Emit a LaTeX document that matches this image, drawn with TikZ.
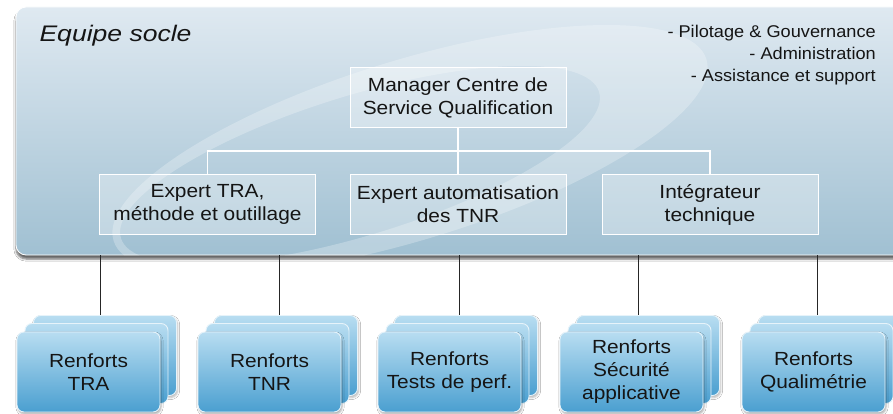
\documentclass[tikz,border=0pt]{standalone}
\usepackage{fontspec}
\setmainfont{Liberation Sans}
\newfontfamily\boxfont[FakeStretch=1.1]{Liberation Sans}
\newfontfamily\notefont[FakeStretch=1.07]{Liberation Sans}
\newfontfamily\titlefont[FakeStretch=1.18]{Liberation Sans}
\usetikzlibrary{shadows.blur}

\definecolor{paneltop}{HTML}{DFE9F1}
\definecolor{panelbot}{HTML}{A0C0D2}
\definecolor{reintop}{HTML}{B8DDF1}
\definecolor{reinbot}{HTML}{4A9FD0}
\definecolor{reinedge}{HTML}{E6F3FA}
\definecolor{inktext}{HTML}{151515}

\tikzset{
  panel/.style={rounded corners=10pt, draw=white, line width=0.8pt,
    top color=paneltop, bottom color=panelbot,
    blur shadow={shadow xshift=0pt, shadow yshift=-4pt, shadow opacity=60, shadow blur steps=5},
    minimum width=890pt, minimum height=248pt, inner sep=0pt},
  role/.style={draw=white, line width=0.9pt, fill=white, fill opacity=0.32, text opacity=1,
    text=inktext, minimum width=216pt, minimum height=60pt, align=center, inner sep=0pt,
    font=\boxfont\fontsize{19}{23}\selectfont},
  reinf/.style={rounded corners=7pt, draw=reinedge, line width=0.9pt,
    top color=reintop, bottom color=reinbot,
    minimum width=143pt, minimum height=80pt, inner sep=0pt},
  reinfmain/.style={reinf, align=center, text=inktext,
    blur shadow={shadow xshift=1pt, shadow yshift=-2pt, shadow opacity=35, shadow blur steps=4},
    font=\boxfont\fontsize{19}{23}\selectfont},
  link/.style={draw=white, line width=1.1pt},
  drop/.style={draw=black!85, line width=0.9pt},
}

\begin{document}
\begin{tikzpicture}[x=1pt, y=-1pt]
\useasboundingbox (0,0) rectangle (893,414);
\clip (0,0) rectangle (893,414);
\fill[white] (0,0) rectangle (893,414);

% --- shared team panel ---
\node[panel] (socle) at (461,131) {};

% faint crescent swoosh across the panel, thickest at its right end
\begin{scope}
  \clip[rounded corners=10pt] (socle.north west) rectangle (socle.south east);
  \fill[white, opacity=0.26, even odd rule]
    (410,150) ellipse [x radius=310pt, y radius=90pt, rotate=17]
    (360,165) ellipse [x radius=250pt, y radius=70pt, rotate=17];
\end{scope}

\node[anchor=base west, font=\titlefont\itshape\fontsize{22.5}{26}\selectfont, text=inktext]
  (title) at (36,42) {Equipe socle};

\node[anchor=north east, align=right, inner sep=0pt, text=inktext,
      font=\notefont\fontsize{17}{22}\selectfont]
  (notes) at (876,25) {- Pilotage \& Gouvernance\\- Administration\\- Assistance et support};

% --- roles inside the panel ---
\node[role] (mgr) at (458,97.5) {Manager Centre de\\Service Qualification};
\node[role] (tra) at (207.5,204.5) {Expert TRA,\\méthode et outillage};
\node[role] (auto) at (458,204.5) {Expert automatisation\\des TNR};
\node[role] (integ) at (710,204.5) {Intégrateur\\technique};

\coordinate (bus) at (458,151);
\draw[link] (mgr.south) -- (auto.north);
\draw[link] (tra.north) -- (tra.north |- bus) -- (integ.north |- bus) -- (integ.north);

% --- reinforcement stacks ---
\foreach \i/\fx/\lx/\txt in {1/88.5/100/{Renforts\\TRA},
                             2/269.5/279/{Renforts\\TNR},
                             3/449.5/459/{Renforts\\Tests de perf.},
                             4/631.5/638/{Renforts\\Sécurité\\applicative},
                             5/813.5/817/{Renforts\\Qualimétrie}} {
  \node[reinf, blur shadow={shadow xshift=1pt, shadow yshift=-2pt, shadow opacity=30, shadow blur steps=4}]
    (r\i b) at (\fx+16.5,355.5) {};
  \node[reinf] (r\i m) at (\fx+8,363.5) {};
  \node[reinfmain] (r\i) at (\fx,372) {\txt};
  \coordinate (l\i) at (\lx,316);
  \draw[drop] (l\i |- socle.south) -- (l\i |- r\i b.north);
}
\end{tikzpicture}
\end{document}
